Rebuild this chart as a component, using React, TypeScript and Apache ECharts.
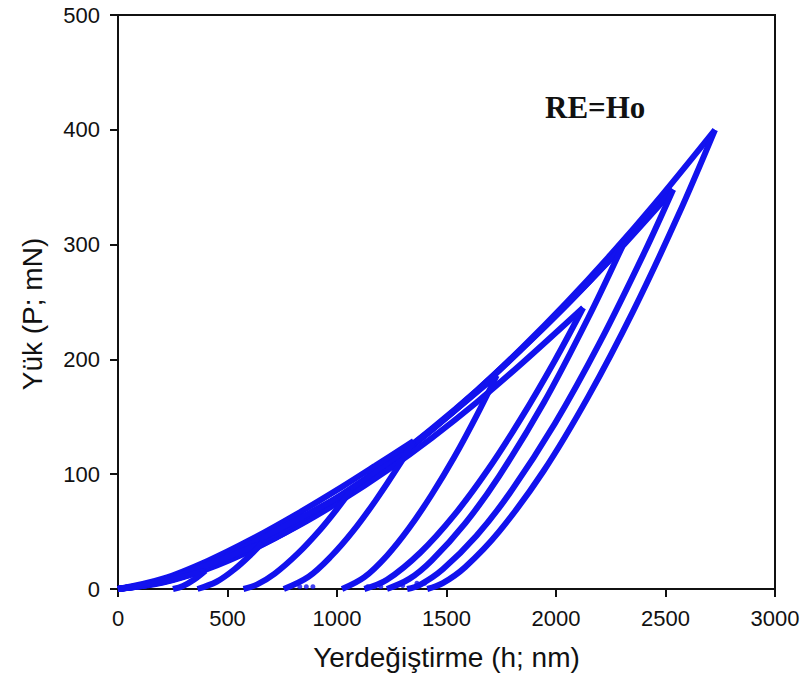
import React, { useEffect, useRef } from "react";
import * as echarts from "echarts";

// x: Yerdeğiştirme (h; nm), y: Yük (P; mN)
const xTicks = [0, 500, 1000, 1500, 2000, 2500, 3000];
const yTicks = [0, 100, 200, 300, 400, 500];

const loadA = [[0,0],[205,5.6],[409,17.5],[614,34.2],[818,54.9],[1023,79.4],[1228,107.2],[1432,138.3],[1637,172.4],[1841,209.4],[2046,249.1],[2251,291.5],[2455,336.5],[2726,400]];
const unloadA = [[2726,400],[2558,325.5],[2353,242.3],[2148,167.8],[1944,103],[1739,49.7],[1586,19.2],[1483,5.1],[1412,0]];

const loadB = [[0,0],[205,6.2],[409,18.8],[614,36.0],[818,57.0],[1023,81.5],[1228,109.1],[1432,139.6],[1637,172.8],[1841,208.7],[2046,247],[2251,287.7],[2455,330.6],[2535,348]];
const unloadB = [[2535,348],[2404,293.3],[2199,214.3],[1995,144.1],[1790,83.8],[1637,46.4],[1483,17.2],[1381,3.9],[1320,0]];

const loadC = [[0,0],[205,6.0],[409,18.2],[614,35.0],[818,56.0],[1023,80.4],[1228,108],[1432,138.5],[1637,172.0],[1841,208.5],[2046,246.8],[2302,298]];
const unloadC = [[2302,298],[2148,236.5],[1944,162.2],[1739,97.9],[1586,57.4],[1432,24.8],[1330,8.8],[1228,0]];

const loadD = [[0,0],[205,6.3],[409,18.6],[614,34.8],[818,54.5],[1023,77.5],[1228,103.2],[1432,131.5],[1637,162.5],[1841,196],[2124,245]];
const unloadD = [[2124,245],[1995,199.1],[1841,148.8],[1688,103.6],[1535,64.3],[1381,31.8],[1228,8.0],[1125,0]];

const loadE = [[0,0],[205,6.8],[409,19.9],[614,37.4],[818,58.4],[1023,82.5],[1228,109.4],[1432,138.9],[1729,186]];
const unloadE = [[1729,186],[1637,150.8],[1535,114.7],[1432,82.1],[1330,53.3],[1228,29.0],[1125,10.3],[1023,0]];

const loadF = [[0,0],[205,9.0],[409,24.5],[614,43.8],[818,65.5],[1023,89.0],[1176,107.5],[1350,129]];
const unloadF = [[1350,129],[1279,106.5],[1176,77],[1074,50.6],[972,28.3],[870,10.7],[757,0]];

const loadG = [[0,0],[205,7.6],[409,21.8],[614,40.0],[818,60.5],[1064,86]];
const unloadG = [[1064,86],[1003,70.4],[921,51.2],[818,30.3],[716,13.4],[634,3.8],[573,0]];

const loadH = [[0,0],[205,7.6],[409,21.0],[658,40]];
const unloadH = [[658,40],[614,31.3],[532,17.2],[450,6.3],[363,0]];

const loadI = [[0,0],[205,6.4],[307,11.2],[399,16]];
const unloadI = [[399,16],[348,8.3],[297,2.7],[251,0]];

const tailDots = [[830,2],[860,2],[890,2],[1140,2],[1170,2],[1200,2],[1256,2],[1300,3],[1365,5],[1400,5]];

const label = "RE=Ho";
const xTitle = "Yerdeğiştirme (h; nm)";
const yTitle = "Yük (P; mN)";

const BLUE = "#1212EE";

export default function App() {
  const ref = useRef<HTMLDivElement>(null);
  useEffect(() => {
    if (!ref.current) return;
    const chart = echarts.init(ref.current, null, { renderer: "svg" });
    const curves = [loadA, unloadA, loadB, unloadB, loadC, unloadC, loadD, unloadD, loadE, unloadE, loadF, unloadF, loadG, unloadG, loadH, unloadH, loadI, unloadI];
    const series: any[] = curves.map((d) => ({
      type: "line",
      data: d,
      smooth: 0.35,
      showSymbol: false,
      symbol: "none",
      lineStyle: { color: BLUE, width: 6 },
      z: 3,
    }));
    series.push({
      type: "scatter",
      data: tailDots,
      symbolSize: 5,
      itemStyle: { color: BLUE },
      z: 3,
    });
    const font = "Arial, 'Liberation Sans', sans-serif";
    const fmt = (v: number) => String(v);
    chart.setOption({
      animation: false,
      backgroundColor: "#fff",
      grid: {
        left: 118,
        right: 30,
        top: 15,
        bottom: 104,
        show: true,
        borderColor: "#111",
        borderWidth: 2,
        backgroundColor: "transparent",
      },
      xAxis: {
        type: "value",
        min: xTicks[0],
        max: xTicks[xTicks.length - 1],
        interval: 500,
        name: xTitle,
        nameLocation: "middle",
        nameGap: 54,
        nameTextStyle: { fontFamily: font, fontSize: 28, color: "#111" },
        splitLine: { show: false },
        axisLine: { lineStyle: { color: "#111", width: 2 } },
        axisTick: { inside: false, length: 8, lineStyle: { color: "#111", width: 2 } },
        axisLabel: { fontFamily: font, fontSize: 22, color: "#111", margin: 18, formatter: fmt },
      },
      yAxis: {
        type: "value",
        min: yTicks[0],
        max: yTicks[yTicks.length - 1],
        interval: 100,
        splitLine: { show: false },
        axisLine: { lineStyle: { color: "#111", width: 2 } },
        axisTick: { inside: false, length: 8, lineStyle: { color: "#111", width: 2 } },
        axisLabel: { fontFamily: font, fontSize: 22, color: "#111", margin: 18, formatter: fmt },
      },
      graphic: [
        {
          type: "text",
          left: 545,
          top: 92,
          style: {
            text: label,
            font: "bold 31px 'Liberation Serif', 'Times New Roman', serif",
            fill: "#111",
          },
          z: 10,
        },
        {
          type: "text",
          x: 32,
          y: 314,
          rotation: Math.PI / 2,
          style: {
            text: yTitle,
            font: "28px Arial, 'Liberation Sans', sans-serif",
            fill: "#111",
            align: "center",
            verticalAlign: "middle",
          },
          z: 10,
        },
      ],
      series,
    });
    return () => chart.dispose();
  }, []);
  return (
    <div
      ref={ref}
      style={{ position: "fixed", left: 0, top: 0, width: 805, height: 693 }}
    />
  );
}
